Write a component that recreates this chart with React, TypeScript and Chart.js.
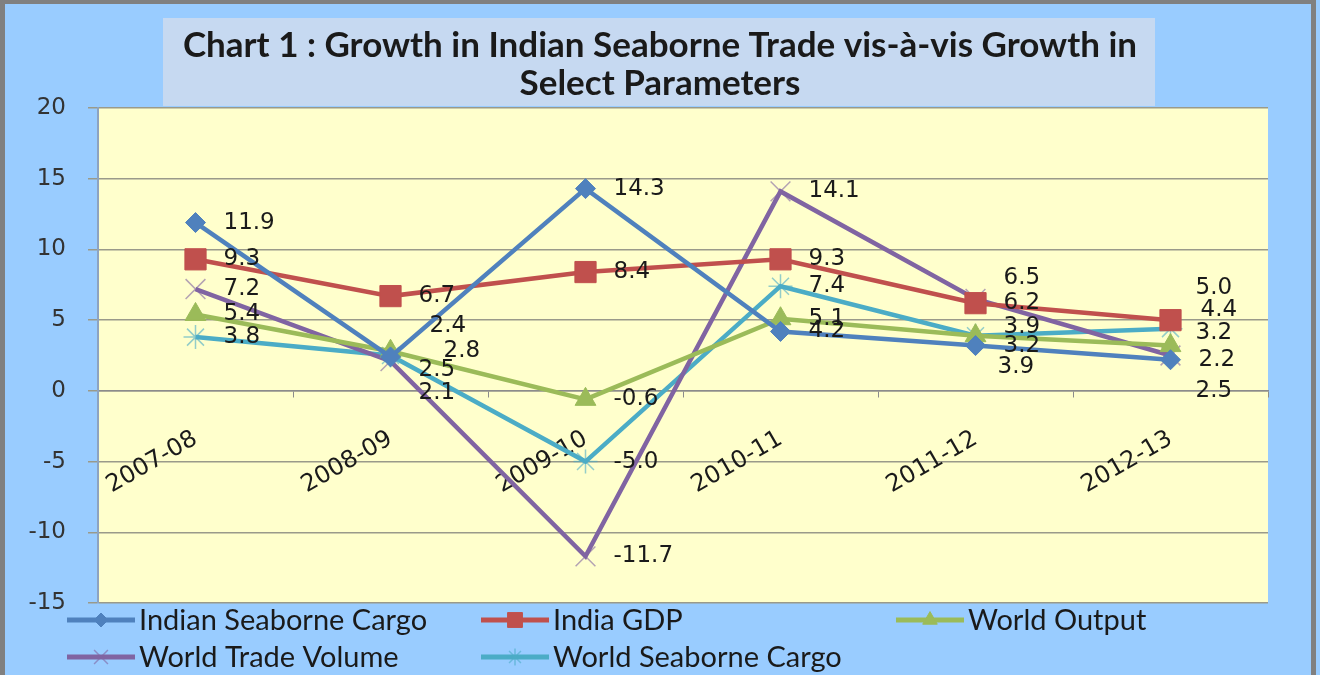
import { useEffect, useRef } from "react";
import { Chart, registerables } from "chart.js";
import { drawPoint } from "chart.js/helpers";

Chart.register(...registerables);

const categories = ["2007-08", "2008-09", "2009-10", "2010-11", "2011-12", "2012-13"];
const seriesNames = [
  "Indian Seaborne Cargo",
  "India GDP",
  "World Output",
  "World Trade Volume",
  "World Seaborne Cargo",
];
const indianSeaborneCargo = [11.9, 2.4, 14.3, 4.2, 3.2, 2.2];
const indiaGDP = [9.3, 6.7, 8.4, 9.3, 6.2, 5.0];
const worldOutput = [5.4, 2.8, -0.6, 5.1, 3.9, 3.2];
const worldTradeVolume = [7.2, 2.1, -11.7, 14.1, 6.5, 2.5];
const worldSeaborneCargo = [3.8, 2.5, -5.0, 7.4, 3.9, 4.4];
const yMin = -15;
const yMax = 20;
const yStep = 5;
const titleLines = [
  "Chart 1 : Growth in Indian Seaborne Trade vis-à-vis Growth in",
  "Select Parameters",
];

// label nudges (px) applied to the data-label text only, per series per category
const labelDy = [
  [0, -31, 0, 0, 0, 0],
  [0, 0, 0, 0, 0, -32],
  [0, 0, 0, 0, -9, -13],
  [0, 32, 0, 0, -21, 36],
  [0, 15, 0, 0, 31, -19],
];
const labelDx = [
  [0, 11, 0, 0, 0, 0],
  [0, 0, 0, 0, 0, -3],
  [0, 25, 0, 0, 0, -3],
  [0, 0, 0, 0, 0, -3],
  [0, 0, 0, 0, -6, 2],
];

const COLORS = ["#4F81BD", "#C0504D", "#9BBB59", "#8064A2", "#4BACC6"];
const BG = "#99CCFF";
const PLOT_BG = "#FFFFCC";
const TITLE_BG = "#C6D9F1";

const bgPlugin = {
  id: "bgPlugin",
  beforeDraw(chart: any) {
    const { ctx, chartArea, width, height } = chart;
    ctx.save();
    ctx.fillStyle = BG;
    ctx.fillRect(0, 0, width, height);
    ctx.strokeStyle = "#808080";
    ctx.lineWidth = 5;
    ctx.strokeRect(2.5, 1.5, width - 9, height + 10);
    ctx.fillStyle = TITLE_BG;
    ctx.fillRect(163, 18, 1155 - 163, 88);
    ctx.fillStyle = PLOT_BG;
    ctx.fillRect(chartArea.left, chartArea.top, chartArea.right - chartArea.left, chartArea.bottom - chartArea.top);
    ctx.fillStyle = "#1a1a1a";
    ctx.font = "bold 35px Lato";
    ctx.textAlign = "center";
    ctx.textBaseline = "middle";
    ctx.fillText(titleLines[0], 660, 46);
    ctx.fillText(titleLines[1], 660, 84);
    ctx.restore();
  },
};

const labelPlugin = {
  id: "labelPlugin",
  afterDatasetsDraw(chart: any) {
    const { ctx } = chart;
    ctx.save();
    ctx.font = "23px 'DejaVu Sans'";
    ctx.fillStyle = "#1a1a1a";
    ctx.textAlign = "left";
    ctx.textBaseline = "middle";
    chart.data.datasets.forEach((ds: any, i: number) => {
      const meta = chart.getDatasetMeta(i);
      meta.data.forEach((pt: any, j: number) => {
        const v = ds.data[j] as number;
        ctx.fillText(v.toFixed(1), pt.x + 28 + labelDx[i][j], pt.y + labelDy[i][j]);
      });
    });
    ctx.restore();
  },
};

const legendPlugin = {
  id: "legendPlugin",
  afterDraw(chart: any) {
    const { ctx } = chart;
    const slots = [
      [67, 620],
      [481, 620],
      [896, 620],
      [67, 657],
      [481, 657],
    ];
    ctx.save();
    ctx.font = "29px Lato";
    ctx.textAlign = "left";
    ctx.textBaseline = "middle";
    chart.data.datasets.forEach((ds: any, i: number) => {
      const [x, y] = slots[i];
      ctx.strokeStyle = ds.borderColor;
      ctx.lineWidth = 5;
      ctx.beginPath();
      ctx.moveTo(x, y);
      ctx.lineTo(x + 68, y);
      ctx.stroke();
      ctx.fillStyle = ds.pointBackgroundColor;
      ctx.strokeStyle = ds.pointBorderColor;
      ctx.lineWidth = ds.pointBorderWidth;
      drawPoint(ctx, { pointStyle: ds.pointStyle, radius: ds.pointRadius * 0.7, rotation: 0, borderWidth: ds.pointBorderWidth }, x + 34, y);
      ctx.fillStyle = "#1a1a1a";
      ctx.fillText(seriesNames[i], x + 72, y + 1);
    });
    ctx.restore();
  },
};

function makeDataset(i: number, data: number[], pointStyle: string, radius: number, thin: boolean) {
  return {
    label: seriesNames[i],
    data,
    borderColor: COLORS[i],
    backgroundColor: COLORS[i],
    borderWidth: 4.5,
    pointStyle,
    pointRadius: radius,
    pointBackgroundColor: thin ? "transparent" : COLORS[i],
    pointBorderColor: thin ? COLORS[i] + "99" : COLORS[i],
    pointBorderWidth: thin ? 1.5 : 1,
    tension: 0,
  };
}

export default function App() {
  const ref = useRef<HTMLCanvasElement>(null);
  useEffect(() => {
    document.body.style.margin = "0";
    const canvas = ref.current!;
    const chart = new Chart(canvas, {
      type: "line",
      data: {
        labels: categories,
        datasets: [
          makeDataset(0, indianSeaborneCargo, "rectRot", 10, false),
          makeDataset(1, indiaGDP, "rect", 15, false),
          makeDataset(2, worldOutput, "triangle", 12, false),
          makeDataset(3, worldTradeVolume, "crossRot", 14, true),
          makeDataset(4, worldSeaborneCargo, "star", 12, true),
        ] as any,
      },
      options: {
        animation: false,
        responsive: false,
        maintainAspectRatio: false,
        layout: { padding: { top: 108, bottom: 72, right: 52, left: 0 } },
        plugins: {
          legend: { display: false },
          title: { display: false },
          tooltip: { enabled: false },
        },
        scales: {
          x: {
            type: "category",
            offset: true,
            position: { y: 0 } as any,
            grid: { drawOnChartArea: false, drawTicks: true, tickLength: 6, color: "#8c8c8c", offset: true },
            border: { display: true, color: "#8c8c8c", width: 1.5 },
            ticks: {
              minRotation: 30,
              maxRotation: 30,
              padding: 28,
              font: { family: "DejaVu Sans", size: 24 },
              color: "#1a1a1a",
            },
          },
          y: {
            min: yMin,
            max: yMax,
            ticks: {
              stepSize: yStep,
              padding: 22,
              font: { family: "DejaVu Sans", size: 23 },
              color: "#333333",
            },
            grid: { color: "#9a9a8a", lineWidth: 1.5, tickLength: 10 },
            border: { color: "#8da3c0", width: 2 },
            afterFit: (s: any) => {
              s.width = 98;
            },
          },
        },
      },
      plugins: [bgPlugin, labelPlugin, legendPlugin],
    });
    return () => chart.destroy();
  }, []);
  return <canvas ref={ref} width={1320} height={675} style={{ display: "block" }} />;
}
